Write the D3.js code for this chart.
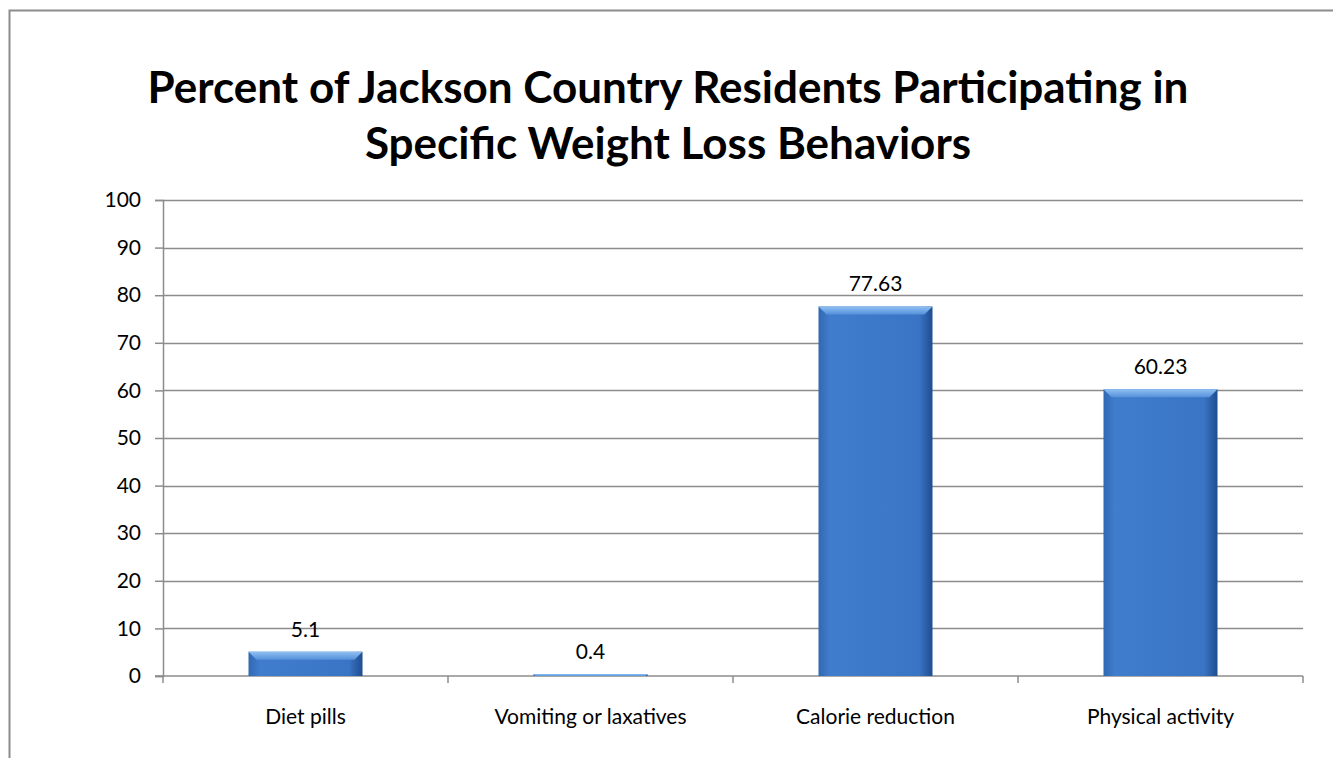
<!DOCTYPE html>
<html lang="en">
<head>
    <meta charset="UTF-8">
    <title>Weight Loss Behaviors</title>
    <style>
        body { margin: 0; background: #fff; }
        svg text { font-family: Lato, "Open Sans", sans-serif; fill: #000; }
        .title { font-weight: 700; font-size: 44px; }
        .tick text { font-size: 21px; }
        .label { font-size: 21px; }
    </style>
</head>
<body>
    <div id="content"></div>
    <script src="https://d3js.org/d3.v7.min.js"></script>
    <script>

        var categories = ["Diet pills", "Vomiting or laxatives", "Calorie reduction", "Physical activity"];
        var values = [5.1, 0.4, 77.63, 60.23];
        var valueLabels = ["5.1", "0.4", "77.63", "60.23"];
        var yTicks = [0, 10, 20, 30, 40, 50, 60, 70, 80, 90, 100];
        var titleLines = ["Percent of Jackson Country Residents Participating in", "Specific Weight Loss Behaviors"];

        var W = 1333, H = 758;
        var margin = { top: 200, right: 30, bottom: 82, left: 163 };
        var width = W - margin.left - margin.right,
            height = H - margin.top - margin.bottom;

        var svg = d3.select("#content").append("svg")
            .attr("width", W)
            .attr("height", H);

        // outer chart border (right and bottom edges fall off the picture)
        svg.append("rect")
            .attr("x", 9.5).attr("y", 10.5)
            .attr("width", W + 20).attr("height", H + 20)
            .attr("fill", "none")
            .attr("stroke", "#8c8c8c")
            .attr("stroke-width", 2);

        var defs = svg.append("defs");
        var side = defs.append("linearGradient").attr("id", "barSide")
            .attr("x1", "0").attr("x2", "1").attr("y1", "0").attr("y2", "0");
        side.append("stop").attr("offset", "0%").attr("stop-color", "#3068b2");
        side.append("stop").attr("offset", "10%").attr("stop-color", "#417dcd");
        side.append("stop").attr("offset", "88%").attr("stop-color", "#3a75c5");
        side.append("stop").attr("offset", "100%").attr("stop-color", "#1f4d8f");

        var topG = defs.append("linearGradient").attr("id", "barTop")
            .attr("x1", "0").attr("x2", "0").attr("y1", "0").attr("y2", "1");
        topG.append("stop").attr("offset", "0%").attr("stop-color", "#8fc0f2");
        topG.append("stop").attr("offset", "100%").attr("stop-color", "#5590da");

        svg.selectAll("text.title")
            .data(titleLines)
            .enter().append("text")
            .attr("class", "title")
            .attr("x", 668)
            .attr("y", function (d, i) { return 103 + i * 56; })
            .attr("text-anchor", "middle")
            .text(function (d) { return d; });

        var x = d3.scaleBand().domain(categories).range([0, width]).paddingInner(0.6).paddingOuter(0.3);
        var y = d3.scaleLinear().domain([0, 100]).range([height, 0]);

        var g = svg.append("g")
            .attr("transform", "translate(" + margin.left + "," + margin.top + ")");

        // gridlines
        g.append("g")
            .selectAll("line")
            .data(yTicks.slice(1))
            .enter().append("line")
            .attr("x1", 0).attr("x2", width)
            .attr("y1", function (d) { return Math.round(y(d)) + 0.5; })
            .attr("y2", function (d) { return Math.round(y(d)) + 0.5; })
            .attr("stroke", "#8c8c8c")
            .attr("stroke-width", 1.5);

        var yAxis = g.append("g")
            .call(d3.axisLeft(y).tickValues(yTicks).tickSize(8).tickPadding(14));
        yAxis.selectAll("line, path").attr("stroke", "#8c8c8c").attr("stroke-width", 1.5);

        // x axis with boundary ticks between categories
        var xb = d3.scaleLinear().domain([0, categories.length]).range([0, width]);
        var xAxis = g.append("g")
            .attr("transform", "translate(0," + height + ")");
        xAxis.append("line")
            .attr("x1", -8).attr("x2", width)
            .attr("stroke", "#8c8c8c").attr("stroke-width", 1.5);
        xAxis.selectAll("line.tk")
            .data(d3.range(categories.length + 1))
            .enter().append("line")
            .attr("class", "tk")
            .attr("x1", function (d) { return xb(d); })
            .attr("x2", function (d) { return xb(d); })
            .attr("y1", 0).attr("y2", 7)
            .attr("stroke", "#8c8c8c").attr("stroke-width", 1.5);
        xAxis.selectAll("text")
            .data(categories)
            .enter().append("text")
            .attr("class", "label")
            .attr("x", function (d) { return x(d) + x.bandwidth() / 2; })
            .attr("y", 48)
            .attr("text-anchor", "middle")
            .text(function (d) { return d; });

        var bars = g.selectAll("g.bar")
            .data(categories)
            .enter().append("g")
            .attr("class", "bar");

        bars.append("rect")
            .attr("x", function (d) { return x(d); })
            .attr("y", function (d, i) { return y(values[i]); })
            .attr("width", x.bandwidth())
            .attr("height", function (d, i) { return height - y(values[i]); })
            .attr("fill", "url(#barSide)");

        // bevel highlight on top of each bar
        bars.append("path")
            .attr("d", function (d, i) {
                var x0 = x(d), x1 = x0 + x.bandwidth(), t = y(values[i]);
                var h = Math.min(8, (height - t));
                var inset = Math.min(10, h);
                return "M" + x0 + "," + t + "L" + x1 + "," + t +
                    "L" + (x1 - inset) + "," + (t + h) + "L" + (x0 + inset) + "," + (t + h) + "Z";
            })
            .attr("fill", "url(#barTop)");

        bars.append("text")
            .attr("class", "label")
            .attr("x", function (d) { return x(d) + x.bandwidth() / 2; })
            .attr("y", function (d, i) { return y(values[i]) - 15; })
            .attr("text-anchor", "middle")
            .text(function (d, i) { return valueLabels[i]; });

    </script>
</body>
</html>
